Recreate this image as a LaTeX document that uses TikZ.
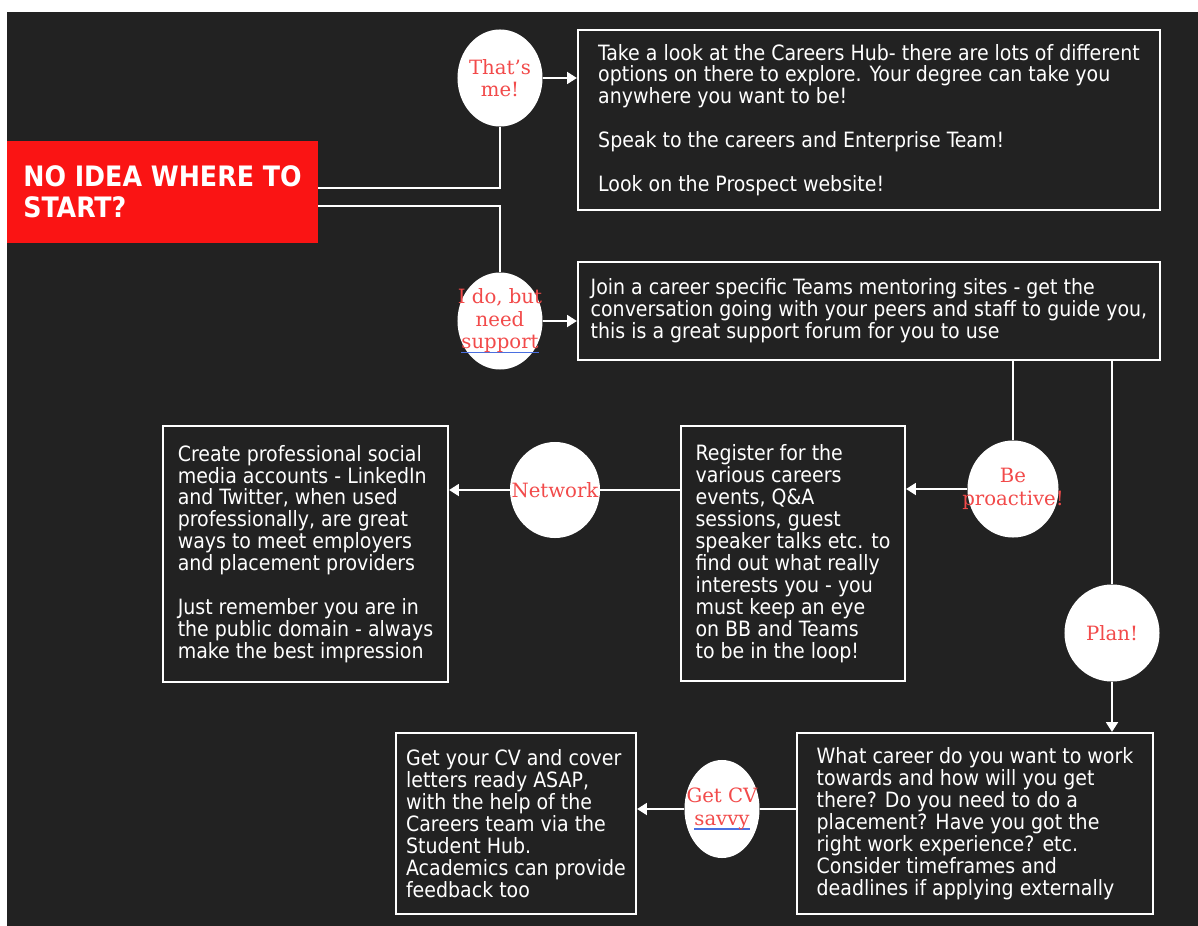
\documentclass[tikz,border=0pt]{standalone}
\usepackage{fontspec}
\usepackage{xcolor}
\usepackage{tikz}
\usetikzlibrary{arrows.meta,shapes.geometric}

\newfontfamily\boxfont{DejaVu Sans Condensed}
\newfontfamily\bubblefont{DejaVu Serif}
\definecolor{bgdark}{HTML}{222222}
\definecolor{titlered}{HTML}{FA1414}
\definecolor{bubblered}{HTML}{F24A4A}
\definecolor{spellblue}{HTML}{4A6FE0}
\newcommand\spellmark[1]{\setbox0=\hbox{#1}\rlap{\textcolor{spellblue}{\rule[-3pt]{\wd0}{0.8pt}}}\box0}

\tikzset{
  titlebox/.style={fill=titlered,text=white,align=left,inner sep=0pt,
    font=\boxfont\bfseries\fontsize{20}{22}\selectfont,
    minimum width=7.775cm,minimum height=2.525cm},
  infobox/.style={draw=white,line width=1.5pt,text=white,align=left,inner sep=0pt,
    font=\boxfont\fontsize{15}{15.6}\selectfont},
  bubbletext/.style={text=bubblered,align=center,inner sep=0pt,
    font=\bubblefont\fontsize{14}{16}\selectfont},
  bubble/.style={ellipse,fill=white,inner sep=0pt,
    minimum width=2.125cm,minimum height=2.425cm,
    label={[bubbletext]center:{#1}}},
  link/.style={draw=white,line width=1.4pt},
  arrow/.style={link,-{Triangle[length=7pt,width=8.5pt]}}
}

\begin{document}
\begin{tikzpicture}[x=0.025cm,y=-0.025cm]
\useasboundingbox (0,0) rectangle (1198,926);
\fill[white] (0,0) rectangle (1198,926);
\fill[bgdark] (7,12) rectangle (1198,926);

\node[titlebox] (start) at (162.5,192) {NO IDEA WHERE TO\\START?};

\node[bubble={That’s\\me!}] (thatsme) at (500,78) {};
\node[bubble={I do, but\\need\\\spellmark{support}}] (idobut) at (500,321) {};
\node[bubble={Be\\proactive!},minimum width=2.275cm] (proactive) at (1013,489) {};
\node[bubble={Network},minimum width=2.25cm,minimum height=2.4cm] (network) at (555,490) {};
\node[bubble={Plan!},minimum width=2.375cm] (plan) at (1112,633) {};
\node[bubble={Get CV\\\spellmark{savvy}},minimum width=1.875cm,minimum height=2.45cm] (getcv) at (722,809) {};

\node[infobox,minimum width=14.55cm,minimum height=4.5cm] (hub) at (869,120)
  {Take a look at the Careers Hub- there are lots of different\\
   options on there to explore. Your degree can take you\\
   anywhere you want to be!\\[15.6pt]
   Speak to the careers and Enterprise Team!\\[15.6pt]
   Look on the Prospect website!};
\node[infobox,minimum width=14.55cm,minimum height=2.45cm] (teams) at (869,311)
  {Join a career specific Teams mentoring sites - get the\\
   conversation going with your peers and staff to guide you,\\
   this is a great support forum for you to use};
\node[infobox,minimum width=5.6cm,minimum height=6.375cm] (events) at (793,553.5)
  {Register for the\\various careers\\events, Q\&A\\sessions, guest\\
   speaker talks etc. to\\find out what really\\interests you - you\\
   must keep an eye\\on BB and Teams\\to be in the loop!};
\node[infobox,minimum width=7.125cm,minimum height=6.4cm] (social) at (305.5,554)
  {Create professional social\\media accounts - LinkedIn\\and Twitter, when used\\
   professionally, are great\\ways to meet employers\\and placement providers\\[15.6pt]
   Just remember you are in\\the public domain - always\\make the best impression};
\node[infobox,minimum width=8.9cm,minimum height=4.525cm] (career) at (975,823.5)
  {What career do you want to work\\towards and how will you get\\
   there? Do you need to do a\\placement? Have you got the\\
   right work experience? etc.\\Consider timeframes and\\
   deadlines if applying externally};
\node[infobox,minimum width=6cm,minimum height=4.525cm] (cvbox) at (516,823.5)
  {Get your CV and cover\\letters ready ASAP,\\with the help of the\\
   Careers team via the\\Student Hub.\\Academics can provide\\feedback too};

\draw[link] ([yshift=0.1cm]start.east) -| (thatsme);
\draw[link] ([yshift=-0.35cm]start.east) -| (idobut);
\draw[arrow] (thatsme) -- (thatsme -| hub.west);
\draw[arrow] (idobut) -- (idobut -| teams.west);
\draw[link] (teams.south -| proactive) -- (proactive);
\draw[arrow] (proactive) -- (proactive -| events.east);
\draw[link] (events.west |- network) -- (network);
\draw[arrow] (network) -- (network -| social.east);
\draw[link] (teams.south -| plan) -- (plan);
\draw[arrow] (plan) -- (plan |- career.north);
\draw[link] (career.west |- getcv) -- (getcv);
\draw[arrow] (getcv) -- (getcv -| cvbox.east);

\end{tikzpicture}
\end{document}
